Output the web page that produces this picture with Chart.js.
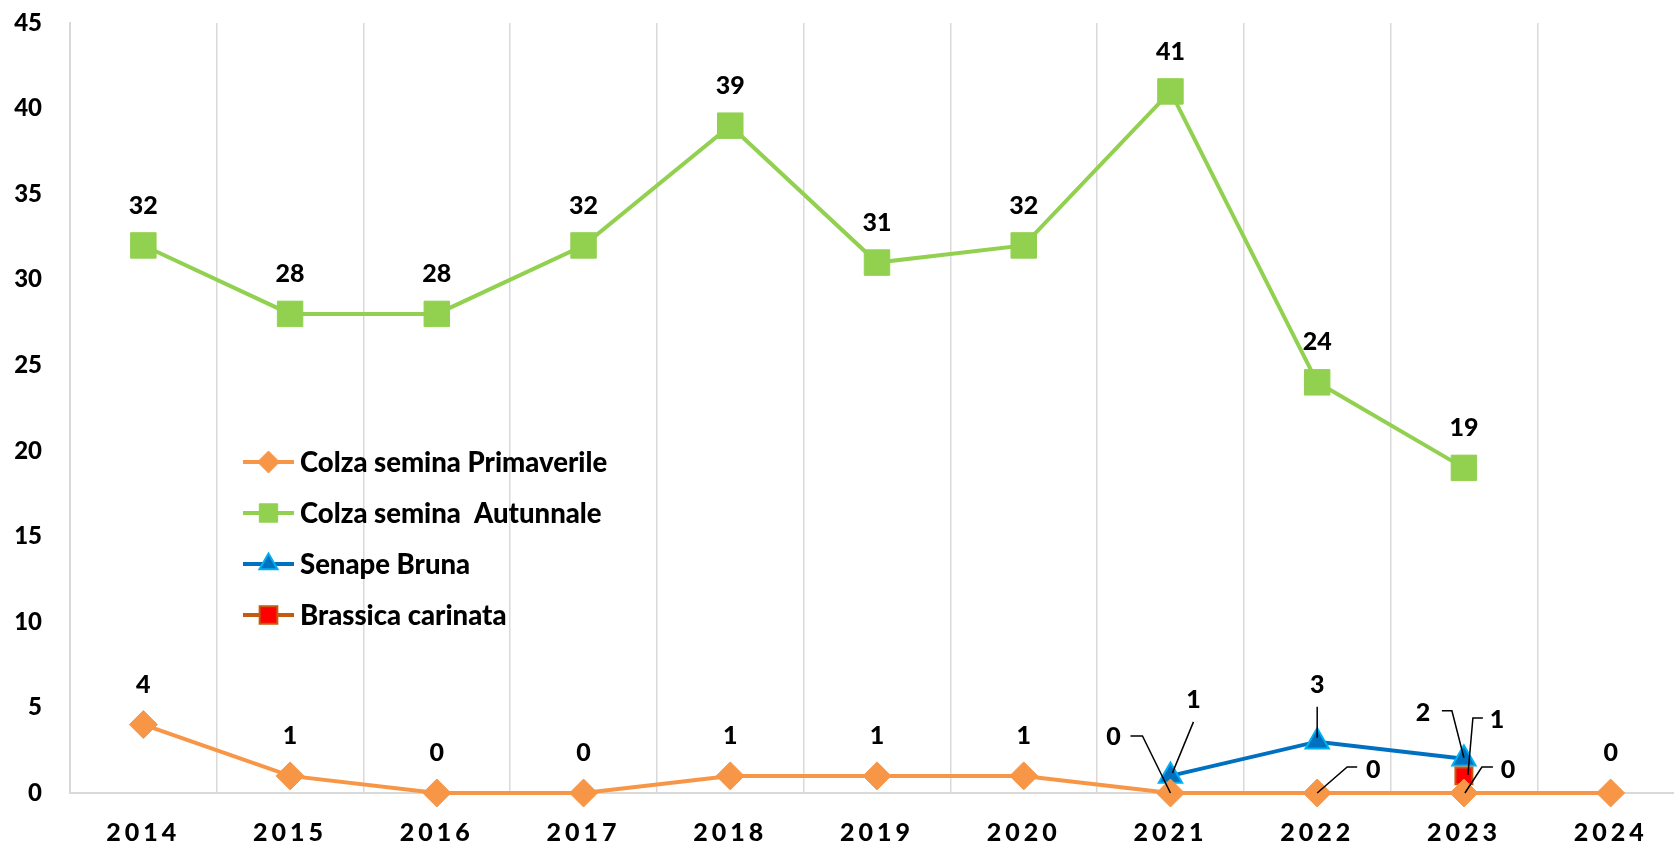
<!DOCTYPE html>
<html>
<head>
<meta charset="utf-8">
<script src="https://cdn.jsdelivr.net/npm/chart.js@4/dist/chart.umd.min.js"></script>
<style>
  html, body { margin: 0; padding: 0; background: #fff; overflow: hidden; }
  #wrap { width: 1684px; height: 844px; }
</style>
</head>
<body>
<div id="wrap"><canvas id="chartColza" width="1684" height="844"></canvas></div>
<script>
// anni e valori
let anni = ['2014', '2015', '2016', '2017', '2018', '2019', '2020', '2021', '2022', '2023', '2024'];
let colzaPrimaverile = [4, 1, 0, 0, 1, 1, 1, 0, 0, 0, 0];
let colzaAutunnale = [32, 28, 28, 32, 39, 31, 32, 41, 24, 19, null];
let senapeBruna = [null, null, null, null, null, null, null, 1, 3, 2, null];
let brassicaCarinata = [null, null, null, null, null, null, null, null, null, 1, null];
let yTicks = [0, 5, 10, 15, 20, 25, 30, 35, 40, 45];

// spostamento etichette (px) e linee guida, per serie e indice
let etichetteSpeciali = {
  0: { 7: { dx: -57, dy: -56, lead: [[0, 0], [-28, -57], [-40, -57]] },
       8: { dx: 56, dy: -23, lead: [[0, 0], [30, -26], [40, -26]] },
       9: { dx: 44, dy: -23, lead: [[1, 0], [18, -26], [29, -26]] } },
  2: { 7: { dx: 23, dy: -76, lead: [[2, -3], [23, -54]] },
       8: { dx: 0, dy: -57, lead: [[0, -4], [0, -35]] },
       9: { dx: -41, dy: -46, lead: [[0, -1], [-12, -48], [-22, -48]] } },
  3: { 9: { dx: 33, dy: -56, lead: [[4, -1], [9, -58], [19, -58]] } }
};
let raggiLegenda = [11, 13, 10.5, 12.5];

const famiglia = 'Lato, "Liberation Sans", sans-serif';
const fontEtichette = '900 25px ' + famiglia;

const etichettePlugin = {
  id: 'etichette',
  beforeDraw(chart) { chart.ctx.letterSpacing = '0px'; },
  afterDatasetsDraw(chart) {
    const ctx = chart.ctx;
    ctx.save();
    ctx.letterSpacing = '0px';
    ctx.font = fontEtichette;
    ctx.fillStyle = '#000';
    ctx.strokeStyle = '#000';
    ctx.lineWidth = 1.5;
    ctx.textAlign = 'center';
    ctx.textBaseline = 'middle';
    chart.data.datasets.forEach(function(ds, di) {
      const meta = chart.getDatasetMeta(di);
      meta.data.forEach(function(pt, i) {
        const v = ds.data[i];
        if (v === null || v === undefined) return;
        const sp = (etichetteSpeciali[di] || {})[i];
        let dx = 0, dy = -40;
        if (sp) {
          dx = sp.dx; dy = sp.dy;
          ctx.beginPath();
          sp.lead.forEach(function(p, k) {
            if (k === 0) ctx.moveTo(pt.x + p[0], pt.y + p[1]);
            else ctx.lineTo(pt.x + p[0], pt.y + p[1]);
          });
          ctx.stroke();
        }
        ctx.fillText(String(v), pt.x + dx, pt.y + dy);
      });
    });
    ctx.restore();
    // le etichette dell'asse x (z = 1) vengono disegnate dopo, con spaziatura
    ctx.letterSpacing = '4px';
  }
};

const legendaPlugin = {
  id: 'legenda',
  afterDraw(chart) {
    const ctx = chart.ctx;
    ctx.letterSpacing = '0px';
    const x0 = 243, x1 = 294, y0 = 462, passo = 51;
    ctx.save();
    chart.data.datasets.forEach(function(ds, i) {
      const y = y0 + i * passo;
      ctx.strokeStyle = ds.borderColor;
      ctx.lineWidth = 4;
      ctx.beginPath();
      ctx.moveTo(x0, y);
      ctx.lineTo(x1, y);
      ctx.stroke();
      ctx.fillStyle = ds.pointBackgroundColor;
      ctx.strokeStyle = ds.pointBorderColor;
      ctx.lineWidth = ds.pointBorderWidth;
      Chart.helpers.drawPoint(ctx, {
        pointStyle: ds.pointStyle,
        radius: raggiLegenda[i],
        rotation: 0,
        borderWidth: ds.pointBorderWidth
      }, (x0 + x1) / 2, y);
      ctx.fillStyle = '#000';
      ctx.font = '900 27.5px ' + famiglia;
      ctx.textAlign = 'left';
      ctx.textBaseline = 'middle';
      ctx.fillText(ds.label, x1 + 6, y + 1);
    });
    ctx.restore();
  }
};

const ctx = document.getElementById('chartColza').getContext('2d');
const myChart = new Chart(ctx, {
  type: 'line',
  data: {
    labels: anni,
    datasets: [
      {
        label: 'Colza semina Primaverile',
        data: colzaPrimaverile,
        borderColor: '#f79646',
        backgroundColor: '#f79646',
        pointBackgroundColor: '#f79646',
        pointBorderColor: '#f79646',
        pointBorderWidth: 1,
        pointStyle: 'rectRot',
        pointRadius: 14,
        borderWidth: 4,
        clip: false,
        order: 0
      },
      {
        label: 'Colza semina  Autunnale',
        data: colzaAutunnale,
        borderColor: '#92d050',
        backgroundColor: '#92d050',
        pointBackgroundColor: '#92d050',
        pointBorderColor: '#92d050',
        pointBorderWidth: 1,
        pointStyle: 'rect',
        pointRadius: 18,
        borderWidth: 4,
        clip: false,
        order: 3
      },
      {
        label: 'Senape Bruna',
        data: senapeBruna,
        borderColor: '#0070c0',
        backgroundColor: '#0070c0',
        pointBackgroundColor: '#0070c0',
        pointBorderColor: '#00b0f0',
        pointBorderWidth: 2,
        pointStyle: 'triangle',
        pointRadius: 13.5,
        borderWidth: 4,
        clip: false,
        order: 2
      },
      {
        label: 'Brassica carinata',
        data: brassicaCarinata,
        borderColor: '#c55a11',
        backgroundColor: '#ff0000',
        pointBackgroundColor: '#ff0000',
        pointBorderColor: '#c55a11',
        pointBorderWidth: 2,
        pointStyle: 'rect',
        pointRadius: 12,
        borderWidth: 4,
        clip: false,
        order: 1
      }
    ]
  },
  options: {
    responsive: false,
    animation: false,
    devicePixelRatio: 1,
    spanGaps: false,
    layout: { autoPadding: false, padding: { top: 23, right: 0, left: 0, bottom: 0 } },
    plugins: {
      legend: { display: false },
      tooltip: { enabled: false }
    },
    scales: {
      x: {
        offset: true,
        grid: { display: true, offset: true, color: '#d9d9d9', lineWidth: 1.5, drawTicks: false },
        border: { display: true, color: '#d9d9d9', width: 2 },
        ticks: {
          z: 1,
          color: '#000',
          padding: 25,
          autoSkip: false,
          maxRotation: 0,
          font: { family: famiglia, size: 25, weight: 900 }
        },
        afterFit: function(scale) {
          scale.height = 51;
          scale.paddingLeft = 0;
          scale.paddingRight = 0;
        }
      },
      y: {
        min: 0,
        max: 45,
        afterBuildTicks: function(scale) {
          scale.ticks = yTicks.map(function(v) { return { value: v }; });
        },
        grid: { display: false, drawTicks: false },
        border: { display: true, color: '#d9d9d9', width: 2 },
        ticks: {
          color: '#000',
          padding: 28,
          font: { family: famiglia, size: 24, weight: 900 }
        },
        afterFit: function(scale) {
          scale.width = 70;
          scale.paddingTop = 0;
          scale.paddingBottom = 0;
        }
      }
    }
  },
  plugins: [etichettePlugin, legendaPlugin]
});
</script>
</body>
</html>
